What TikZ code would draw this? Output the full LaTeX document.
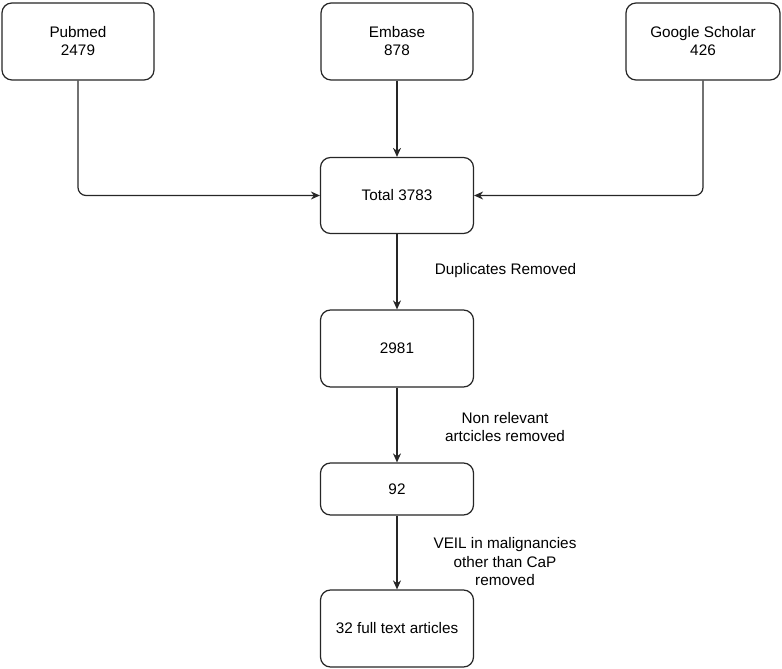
\documentclass[tikz,border=0pt]{standalone}
\usepackage{fontspec}
\setmainfont{Liberation Sans}
\usetikzlibrary{arrows.meta}
\begin{document}
\begin{tikzpicture}[x=1pt,y=-1pt,
  box/.style={draw=black!85,line width=1.2pt,rounded corners=10pt,fill=white,align=center,font=\fontsize{15.3}{18}\selectfont,inner sep=0pt},
  conn/.style={draw=black!85,line width=1.2pt,-{Stealth[length=9pt,width=8pt]}},
  lbl/.style={align=center,font=\fontsize{15.3}{18.5}\selectfont,inner sep=0pt}]
\useasboundingbox (0,0) rectangle (782,669);
\node[box,minimum width=152pt,minimum height=77pt] (pub) at (78,41.5) {Pubmed\\2479};
\node[box,minimum width=152pt,minimum height=77pt] (emb) at (397,41.5) {Embase\\878};
\node[box,minimum width=154pt,minimum height=77pt] (gs) at (703,41.5) {Google Scholar\\426};
\node[box,minimum width=153pt,minimum height=76pt] (tot) at (397,195.5) {Total 3783};
\node[box,minimum width=153pt,minimum height=77pt] (n2981) at (397,348.5) {2981};
\node[box,minimum width=153pt,minimum height=52pt] (n92) at (397,489) {92};
\node[box,minimum width=153pt,minimum height=77pt] (n32) at (397,628.5) {32 full text articles};
\draw[conn,rounded corners=8pt] (pub.south) |- (tot.west);
\draw[conn,rounded corners=8pt] (gs.south) |- (tot.east);
\draw[conn] (emb.south) -- (tot.north);
\draw[conn] (tot.south) -- (n2981.north);
\draw[conn] (n2981.south) -- (n92.north);
\draw[conn] (n92.south) -- (n32.north);
\node[lbl] (l1) at (505.5,271) {Duplicates Removed};
\node[lbl] (l2) at (505,427) {Non relevant\\artcicles removed};
\node[lbl] (l3) at (505,562) {VEIL in malignancies\\other than CaP\\removed};
\end{tikzpicture}
\end{document}
